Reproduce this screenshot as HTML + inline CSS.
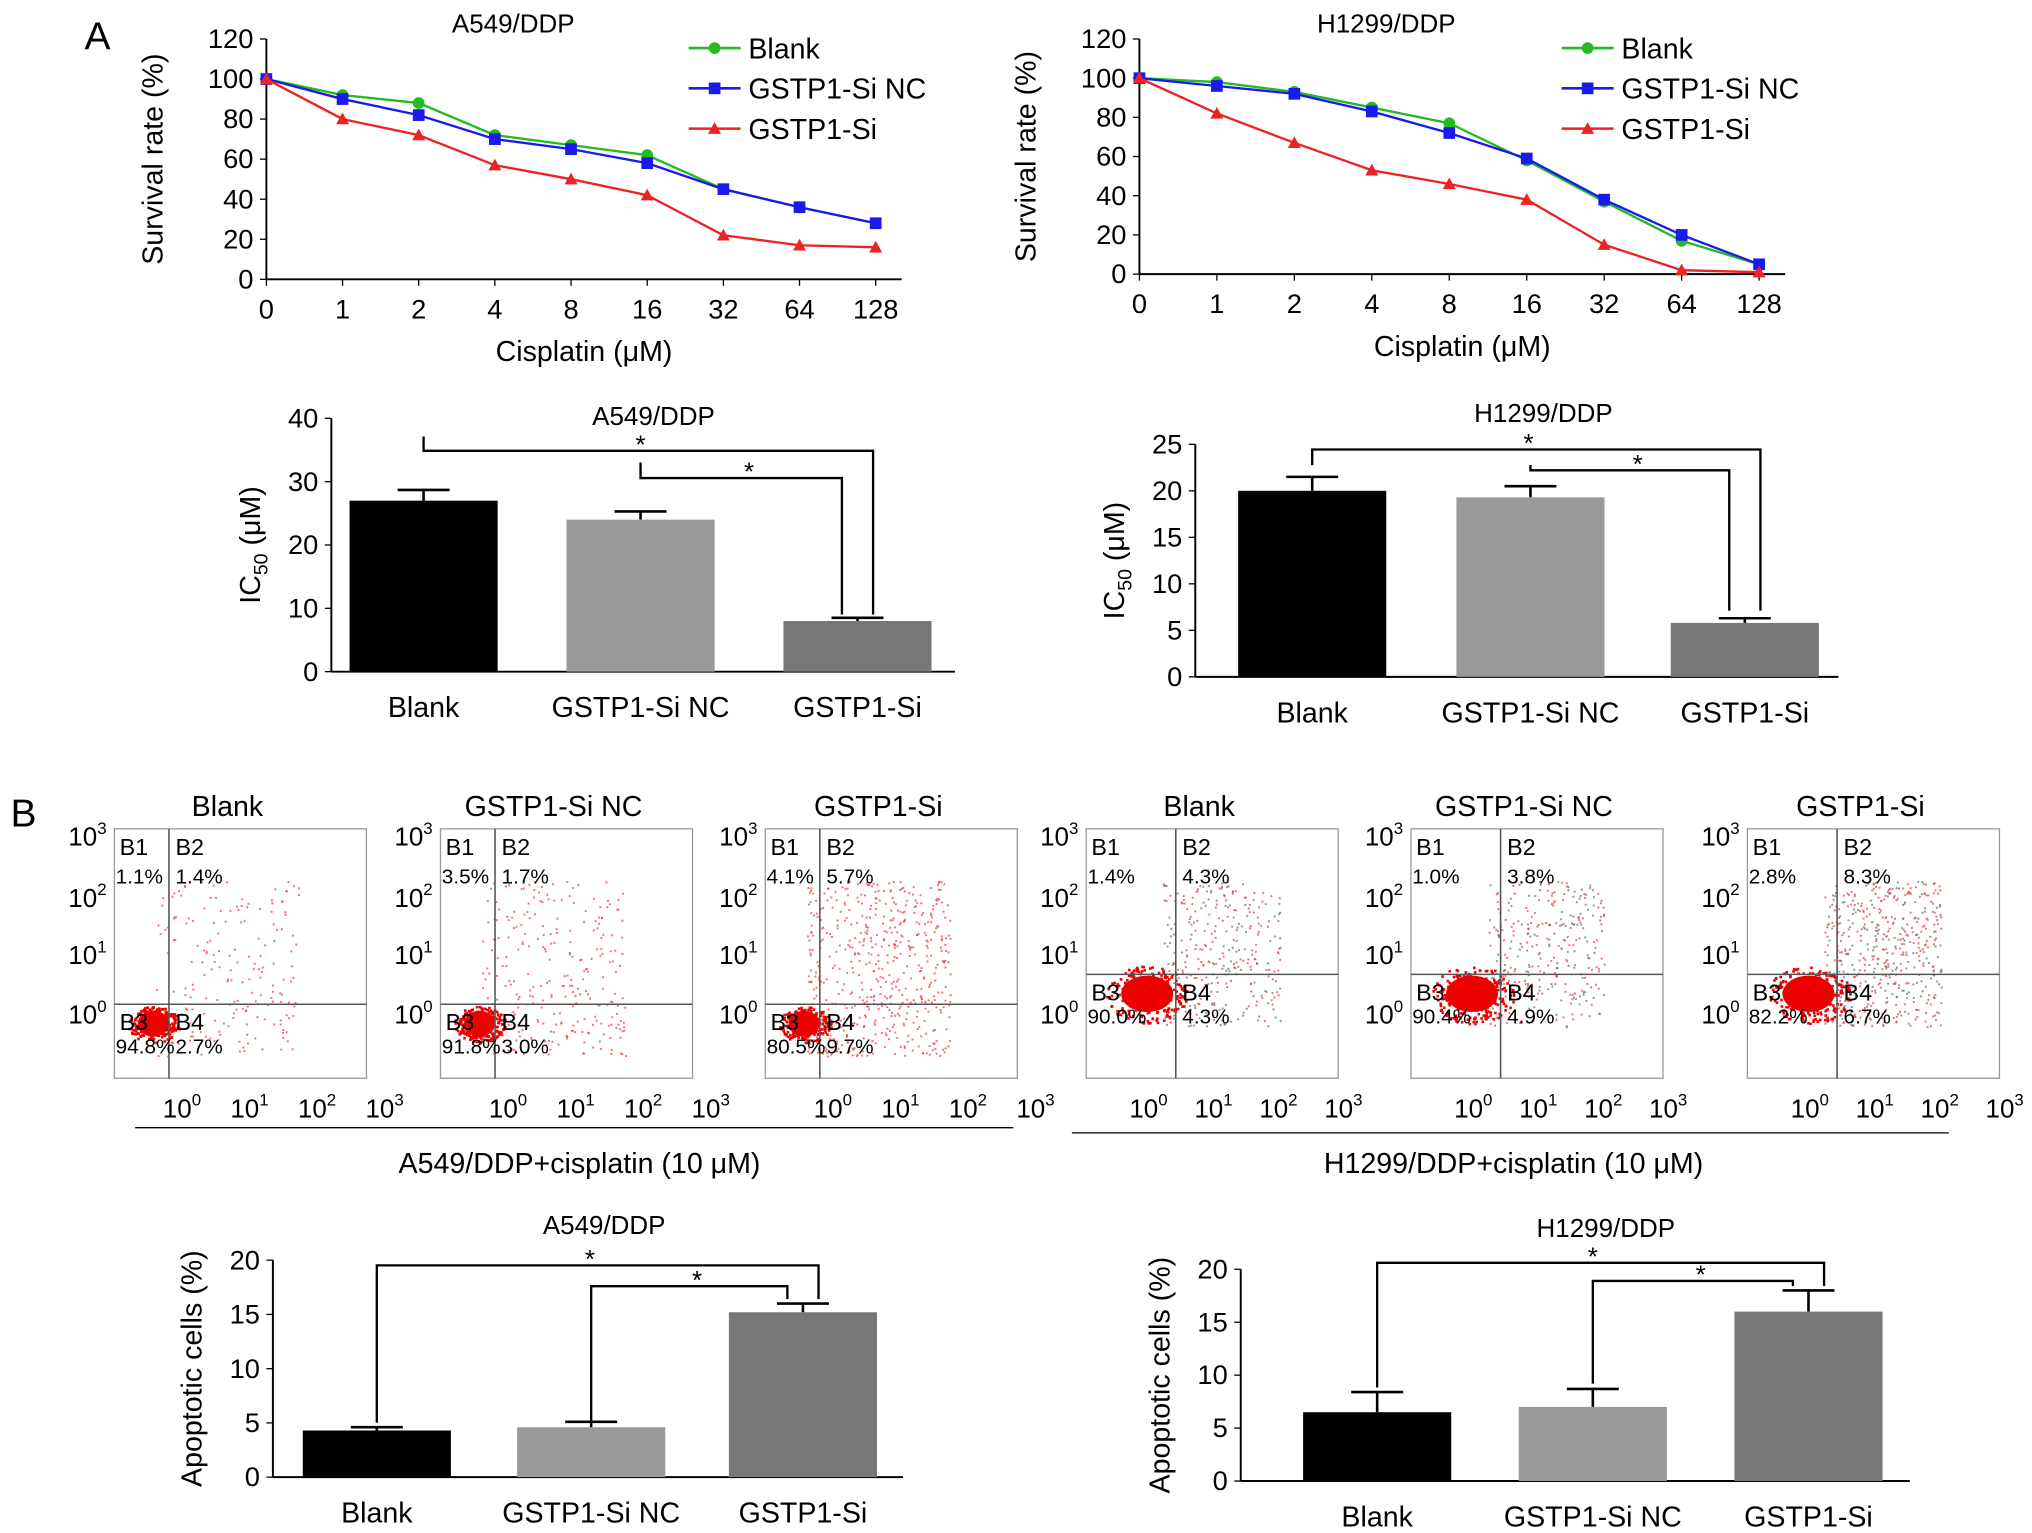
<!DOCTYPE html>
<html><head><meta charset="utf-8"><style>
html,body{margin:0;padding:0;background:#fff}
svg{display:block;font-family:"Liberation Sans",Arial,sans-serif}
</style></head><body>
<svg id="fig" width="2032" height="1533" viewBox="0 0 1564 1180" xmlns="http://www.w3.org/2000/svg">
<text x="65" y="38" font-size="30">A</text>
<text x="8" y="636" font-size="30">B</text>
</svg>
<script>
const NS="http://www.w3.org/2000/svg";
const svg=document.getElementById('fig');
function el(t,a,p){const e=document.createElementNS(NS,t);for(const k in a)e.setAttribute(k,a[k]);(p||svg).appendChild(e);return e;}
function tx(x,y,s,sz,anc,name,extra){const e=el('text',Object.assign({x:x,y:y,'font-size':sz,'text-anchor':anc||'start'},extra||{}));e.textContent=s;

return e;}

// ---------- survival data ----------
const doseLabels=["0","1","2","4","8","16","32","64","128"];
const surv1Blank=[100,92,88,72,67,62,45,36,28];
const surv1NC=[100,90,82,70,65,58,45,36,28];
const surv1Si=[100,80,72,57,50,42,22,17,16];
const surv2Blank=[100,98,93,85,77,58,37,17,5];
const surv2NC=[100,96,92,83,72,59,38,20,5];
const surv2Si=[100,82,67,53,46,38,15,2,1];
const survTicks=[0,20,40,60,80,100,120];
const seriesNames=["Blank","GSTP1-Si NC","GSTP1-Si"];
const seriesColors=["#22bb22","#1a1aee","#ee2222"];

function survival(x0,x1,y0,y1,title,series,pre){
  const g=el('g',{});
  const X=i=>x0+(x1-x0)*i/(doseLabels.length-1);
  const Y=v=>y0-(y0-y1)*v/120;
  el('line',{x1:x0,y1:y0,x2:x1+20,y2:y0,stroke:'#000','stroke-width':1.5},g);
  el('line',{x1:x0,y1:y0,x2:x0,y2:y1,stroke:'#000','stroke-width':1.5},g);
  survTicks.forEach(v=>{el('line',{x1:x0-5,y1:Y(v),x2:x0,y2:Y(v),stroke:'#000'},g);tx(x0-10,Y(v)+7,v,21,'end','y-tick-label');});
  doseLabels.forEach((l,i)=>{el('line',{x1:X(i),y1:y0,x2:X(i),y2:y0+5,stroke:'#000'},g);tx(X(i),y0+30,l,21,'middle','x-tick-label');});
  tx((x0+x1)/2+10,y0+63,'Cisplatin (μM)',22,'middle','x-axis-title');
  tx(0,0,'Survival rate (%)',22,'middle','y-axis-title',{transform:`translate(${x0-80},${(y0+y1)/2}) rotate(-90)`});
  tx(x0+190,y1-5,title,20,'middle','chart-title');
  series.forEach((s,k)=>{
    const pts=s.map((v,i)=>X(i)+','+Y(v)).join(' ');
    const pl=el('polyline',{points:pts,fill:'none',stroke:seriesColors[k],'stroke-width':1.8},g);
    
    s.forEach((v,i)=>{let m;
      if(k==0)m=el('circle',{cx:X(i),cy:Y(v),r:4.5,fill:seriesColors[k]},g);
      else if(k==1)m=el('rect',{x:X(i)-4.5,y:Y(v)-4.5,width:9,height:9,fill:seriesColors[k]},g);
      else m=el('polygon',{points:`${X(i)},${Y(v)-5} ${X(i)-5},${Y(v)+4} ${X(i)+5},${Y(v)+4}`,fill:seriesColors[k]},g);
      });
  });
  seriesNames.forEach((n,k)=>{const ly=y1+7+k*31;const lx=x0+325;
    el('line',{x1:lx,y1:ly,x2:lx+40,y2:ly,stroke:seriesColors[k],'stroke-width':2},g);
    if(k==0)el('circle',{cx:lx+20,cy:ly,r:4.5,fill:seriesColors[k]},g);
    else if(k==1)el('rect',{x:lx+15.5,y:ly-4.5,width:9,height:9,fill:seriesColors[k]},g);
    else el('polygon',{points:`${lx+20},${ly-5} ${lx+15},${ly+4} ${lx+25},${ly+4}`,fill:seriesColors[k]},g);
    tx(lx+46,ly+8,n,22,'start','legend-entry');});
}
survival(205,674,215,30,'A549/DDP',[surv1Blank,surv1NC,surv1Si],'a549');
survival(877,1354,211,30,'H1299/DDP',[surv2Blank,surv2NC,surv2Si],'h1299');

// ---------- bar charts ----------
const barCats=["Blank","GSTP1-Si NC","GSTP1-Si"];
const barColors=["#000","#999","#777"];
const ic1Vals=[27,24,8], ic1Err=[28.7,25.3,8.5], ic1Ticks=[0,10,20,30,40];
const ic2Vals=[20,19.3,5.8], ic2Err=[21.5,20.5,6.3], ic2Ticks=[0,5,10,15,20,25];
const ap1Vals=[4.3,4.6,15.2], ap1Err=[4.6,5.1,16.0], ap1Ticks=[0,5,10,15,20];
const ap2Vals=[6.5,7,16], ap2Err=[8.4,8.7,18], ap2Ticks=[0,5,10,15,20];

function bars(o){
  const g=el('g',{});
  const max=o.ticks[o.ticks.length-1];
  const Y=v=>o.y0-(o.y0-o.y1)*v/max;
  el('line',{x1:o.ax0,y1:o.y0,x2:o.ax1,y2:o.y0,stroke:'#000','stroke-width':1.5},g);
  el('line',{x1:o.ax0,y1:o.y0,x2:o.ax0,y2:o.y1,stroke:'#000','stroke-width':1.5},g);
  o.ticks.forEach(v=>{el('line',{x1:o.ax0-5,y1:Y(v),x2:o.ax0,y2:Y(v),stroke:'#000'},g);tx(o.ax0-10,Y(v)+7,v,21,'end','y-tick-label');});
  o.vals.forEach((v,i)=>{const cx=o.cx[i];
    el('line',{x1:cx,y1:Y(v),x2:cx,y2:Y(o.err[i]),stroke:'#000','stroke-width':2},g);
    el('line',{x1:cx-20,y1:Y(o.err[i]),x2:cx+20,y2:Y(o.err[i]),stroke:'#000','stroke-width':2},g);
    const r=el('rect',{x:cx-57,y:Y(v),width:114,height:Y(0)-Y(v),fill:barColors[i]},g);
    
    tx(cx,o.y0+35,barCats[i],22,'middle','x-tick-label');});
  tx(o.cx[1]+10,o.y1-5+o.tOff,o.title,20,'middle','chart-title');
  const yt=tx(0,0,o.ylab,22,'middle','y-axis-title',{transform:`translate(${o.ax0-55},${(o.y0+o.y1)/2}) rotate(-90)`});
  if(o.sub){yt.textContent='IC';const t=el('tspan',{'font-size':15,dy:6},yt);t.textContent='50';const t2=el('tspan',{dy:-6},yt);t2.textContent=' (μM)';}
  const b=o.br;
  el('polyline',{points:`${o.cx[0]},${b[0]} ${o.cx[0]},${b[1]} ${o.cx[2]+12},${b[1]} ${o.cx[2]+12},${b[2]}`,fill:'none',stroke:'#000','stroke-width':1.8},g);
  el('polyline',{points:`${o.cx[1]},${b[3]} ${o.cx[1]},${b[4]} ${o.cx[2]-12},${b[4]} ${o.cx[2]-12},${b[2]}`,fill:'none',stroke:'#000','stroke-width':1.8},g);
  tx((o.cx[0]+o.cx[2])/2,b[1]+2,'*',20,'middle','significance-star');
  tx((o.cx[1]+o.cx[2])/2,b[4]+2,'*',20,'middle','significance-star');
}
bars({name:'a549-ic50-chart',ax0:255,ax1:735,y0:517,y1:322,cx:[326,493,660],vals:ic1Vals,err:ic1Err,ticks:ic1Ticks,title:'A549/DDP',ylab:'IC50 (μM)',sub:1,tOff:10,br:[336,347,473,356,368]});
bars({name:'h1299-ic50-chart',ax0:920,ax1:1415,y0:521,y1:342,cx:[1010,1178,1343],vals:ic2Vals,err:ic2Err,ticks:ic2Ticks,title:'H1299/DDP',ylab:'IC50 (μM)',sub:1,tOff:-12,br:[358,346,470,358,362]});
bars({name:'a549-apoptosis-chart',ax0:210,ax1:695,y0:1137,y1:970,cx:[290,455,618],vals:ap1Vals,err:ap1Err,ticks:ap1Ticks,title:'A549/DDP',ylab:'Apoptotic cells (%)',tOff:-15,br:[1095,974,1000,1094,990]});
bars({name:'h1299-apoptosis-chart',ax0:955,ax1:1470,y0:1140,y1:977,cx:[1060,1226,1392],vals:ap2Vals,err:ap2Err,ticks:ap2Ticks,title:'H1299/DDP',ylab:'Apoptotic cells (%)',tOff:-20,br:[1068,972,990,1065,986]});

// ---------- flow cytometry panels ----------
const flowTitles=["Blank","GSTP1-Si NC","GSTP1-Si","Blank","GSTP1-Si NC","GSTP1-Si"];
const flowQ=[["1.1%","1.4%","94.8%","2.7%"],["3.5%","1.7%","91.8%","3.0%"],["4.1%","5.7%","80.5%","9.7%"],["1.4%","4.3%","90.0%","4.3%"],["1.0%","3.8%","90.4%","4.9%"],["2.8%","8.3%","82.2%","6.7%"]];
const boxX=[88,339,589,836,1086,1345];
let seed=7;function rnd(){seed=(seed*16807)%2147483647;return seed/2147483647;}
flowTitles.forEach((t,i)=>{
  const g=el('g',{});
  const x=boxX[i],y=638,w=194,h=192,right=i>=3;
  const gx=right?x+69:x+42, gy=right?750:773;
  el('rect',{x:x,y:y,width:w,height:h,fill:'#fff',stroke:'#999','stroke-width':1},g);
  const col=right?'#666':'#e33';
  const q=parseFloat(flowQ[i][1])+parseFloat(flowQ[i][3])+parseFloat(flowQ[i][0]);
  const n=60+q*25;
  for(let k=0;k<n;k++){const px=gx-10+rnd()*(right?90:110),py=y+40+rnd()*(gy-y);
    el('rect',{x:px,y:py,width:1.5,height:1.5,fill:rnd()<0.5?'#e33':col,opacity:0.7},g);}
  for(let k=0;k<220;k++){const a=rnd()*6.28,r=Math.sqrt(rnd())*(right?32:20);
    el('rect',{x:gx-(right?22:12)+Math.cos(a)*r,y:gy+15+Math.sin(a)*r*0.7,width:2,height:2,fill:'#e00'},g);}
  el('ellipse',{cx:gx-(right?22:12),cy:gy+15,rx:right?20:12,ry:right?14:10,fill:'#e00'},g);
  el('line',{x1:gx,y1:y,x2:gx,y2:y+h,stroke:'#555','stroke-width':1.2},g);
  el('line',{x1:x,y1:gy,x2:x+w,y2:gy,stroke:'#555','stroke-width':1.2},g);
  tx(x+4,y+20,'B1',18,'start','quadrant-label');tx(gx+5,y+20,'B2',18,'start','quadrant-label');
  tx(x+1,y+42,flowQ[i][0],16,'start','quadrant-percent');tx(gx+5,y+42,flowQ[i][1],16,'start','quadrant-percent');
  tx(x+4,gy+20,'B3',18,'start','quadrant-label');tx(gx+5,gy+20,'B4',18,'start','quadrant-label');
  tx(x+1,gy+38,flowQ[i][2],16,'start','quadrant-percent');tx(gx+5,gy+38,flowQ[i][3],16,'start','quadrant-percent');
  tx(x+w/2-10,y-10,t,22,'middle','flow-title');
  ['0','1','2','3'].forEach((e,k)=>{const ly=[y+13,y+60,y+104,y+150][3-k];
    const a=tx(x-6,ly,'10',20,'end','y-tick-label');const s=el('tspan',{'font-size':13,dy:-9},a);s.textContent=e;
    const lx=(right?x+48:x+52)+k*(right?50:52);const b=tx(lx,y+h+30,'10',20,'middle','x-tick-label');const s2=el('tspan',{'font-size':13,dy:-9},b);s2.textContent=e;});
});
el('line',{x1:104,y1:868,x2:780,y2:868,stroke:'#000','stroke-width':1});
el('line',{x1:825,y1:872,x2:1500,y2:872,stroke:'#000','stroke-width':1});
tx(446,903,'A549/DDP+cisplatin (10 μM)',22,'middle','group-label');
tx(1165,903,'H1299/DDP+cisplatin (10 μM)',22,'middle','group-label');
</script>
</body></html>
